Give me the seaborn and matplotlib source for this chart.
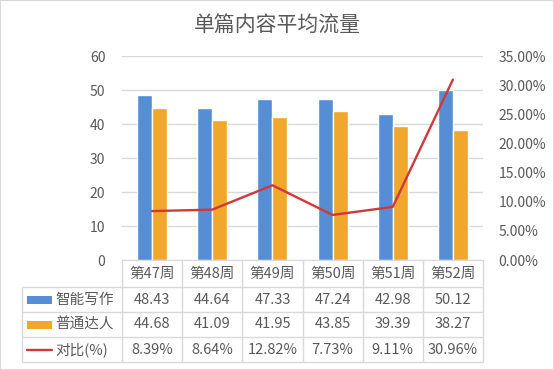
import numpy as np
import pandas as pd
import seaborn as sns
import matplotlib.pyplot as plt
from matplotlib.patches import Rectangle
from matplotlib.ticker import FuncFormatter

## data
weeks = ['第47周', '第48周', '第49周', '第50周', '第51周', '第52周']
smart = [48.43, 44.64, 47.33, 47.24, 42.98, 50.12]
normal = [44.68, 41.09, 41.95, 43.85, 39.39, 38.27]
ratio = [8.39, 8.64, 12.82, 7.73, 9.11, 30.96]
series = ['智能写作', '普通达人']
line_name = '对比(%)'
title = '单篇内容平均流量'

blue, orange, red = '#558ed5', '#f0a72b', '#d0393b'
txt = '#595959'
grid_c = '#d9d9d9'
fs = 10.5
tick_fs = 10

sns.set_style('white')
plt.rcParams['font.family'] = ['Noto Sans CJK SC', 'DejaVu Sans']

W, H = 554, 370
fig = plt.figure(figsize=(W / 100, H / 100), dpi=100)


def box(l, t, r, b):
    return [l / W, 1 - b / H, (r - l) / W, (b - t) / H]


## bars
ax = fig.add_axes(box(122, 56, 483, 260))
df = pd.DataFrame({
    'week': weeks * 2,
    'value': smart + normal,
    'series': [series[0]] * len(weeks) + [series[1]] * len(weeks),
})
sns.barplot(data=df, x='week', y='value', hue='series',
            palette=[blue, orange], width=0.5, saturation=1,
            legend=False, ax=ax)
ax.set_xlim(-0.5, len(weeks) - 0.5)
ax.set_ylim(0, 60)
ax.set_yticks(range(0, 61, 10))
ax.yaxis.grid(True, color=grid_c, lw=1)
ax.set_axisbelow(True)
ax.set_xticklabels([])
ax.set_xlabel('')
ax.set_ylabel('')
ax.tick_params(length=0, labelsize=tick_fs, labelcolor=txt)
ax.tick_params(axis='y', pad=12)
for s in ax.spines.values():
    s.set_visible(False)
ax.spines['bottom'].set_visible(True)
ax.spines['bottom'].set_color(grid_c)

## line
ax2 = ax.twinx()
sns.lineplot(x=weeks, y=np.array(ratio) / 100, color=red, lw=1.7,
             sort=False, ax=ax2)
ax2.set_ylim(0, 0.35)
ax2.set_yticks(np.arange(0, 0.351, 0.05))
ax2.yaxis.set_major_formatter(FuncFormatter(lambda v, p: '%.2f%%' % (v * 100)))
ax2.tick_params(length=0, labelsize=tick_fs, labelcolor=txt, pad=11)
ax2.set_ylabel('')
for s in ax2.spines.values():
    s.set_visible(False)

## data table
tax = fig.add_axes(box(22, 260, 483, 362))
xl = -0.5 - 100 / 60
xr = len(weeks) - 0.5
tax.set_xlim(xl, xr)
tax.set_ylim(362, 260)
tax.axis('off')
rows = [260, 287, 312, 337, 362]
tax.hlines(rows[1:], xl, xr, color=grid_c, lw=1, clip_on=False)
tax.vlines([xl], rows[1], rows[-1], color=grid_c, lw=1, clip_on=False)
tax.vlines(np.arange(-0.5, len(weeks)), rows[0], rows[-1], color=grid_c, lw=1, clip_on=False)

mid = [(a + b) / 2 for a, b in zip(rows[:-1], rows[1:])]
for i, w in enumerate(weeks):
    tax.text(i, mid[0], w, ha='center', va='center', fontsize=fs, color=txt)
    tax.text(i, mid[1], '%.2f' % smart[i], ha='center', va='center', fontsize=fs, color=txt)
    tax.text(i, mid[2], '%.2f' % normal[i], ha='center', va='center', fontsize=fs, color=txt)
    tax.text(i, mid[3], '%.2f%%' % ratio[i], ha='center', va='center', fontsize=fs, color=txt)

kx = xl + 5 / 60
kw = 25 / 60
for r, c, name in [(mid[1], blue, series[0]), (mid[2], orange, series[1])]:
    tax.add_patch(Rectangle((kx, r - 4), kw, 8, color=c, lw=0))
    tax.text(kx + 28 / 60, r, name, ha='left', va='center', fontsize=fs, color=txt)
tax.plot([kx, kx + kw], [mid[3], mid[3]], color=red, lw=1.7)
tax.text(kx + 28 / 60, mid[3], line_name, ha='left', va='center', fontsize=fs, color=txt)

## title and border
fig.text(0.5, 1 - 26 / H, title, ha='center', va='center', fontsize=15, color=txt)
fig.patches.append(Rectangle((0, 0), 1, 1, transform=fig.transFigure,
                             fill=False, ec=grid_c, lw=1.5))

fig.savefig('out.png', dpi=100)
